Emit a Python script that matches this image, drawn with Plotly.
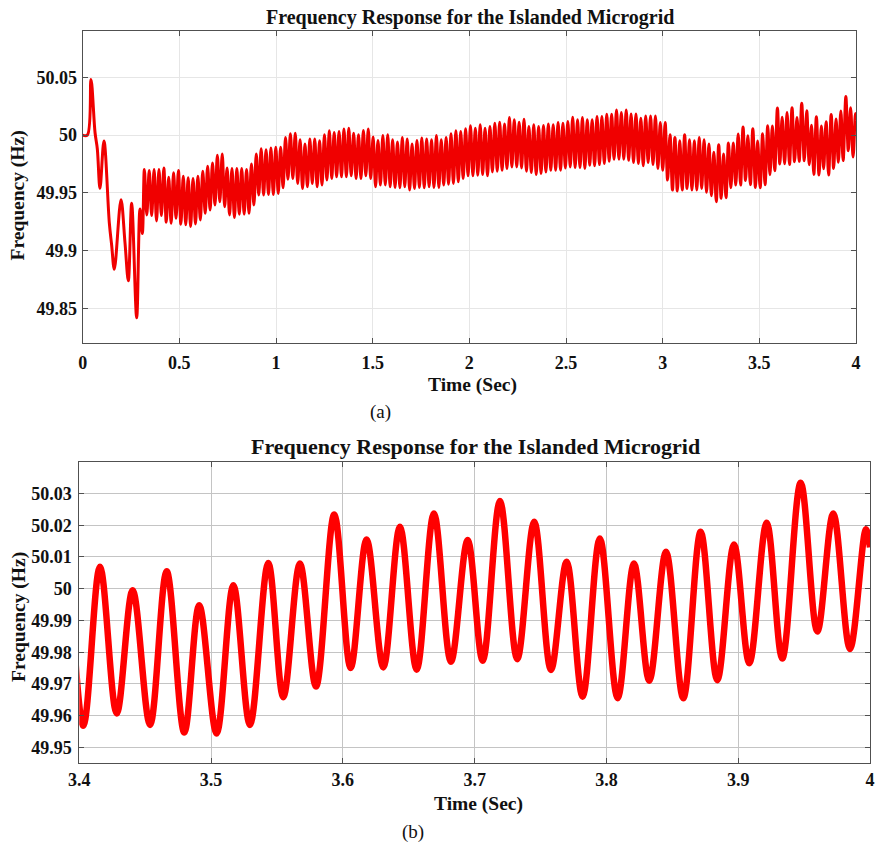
import plotly.graph_objects as go

# ---- start-up transient (s, Hz) ----
trans_t = [0.000, 0.024, 0.043, 0.064, 0.0757, 0.0895, 0.110, 0.1378, 0.1498,
           0.1636, 0.1981, 0.2188, 0.236, 0.2533, 0.2792, 0.2964, 0.3085]
trans_hz = [50.000, 50.000, 50.048, 50.002, 49.988, 49.954, 49.995, 49.924, 49.905,
            49.884, 49.944, 49.907, 49.874, 49.941, 49.842, 49.936, 49.915]

# ---- oscillation crests, 0.32 s .. 3.39 s ----
band_peak_t = [
    0.3190, 0.3442, 0.3694, 0.3945, 0.4197, 0.4449, 0.4701, 0.4952, 0.5204, 0.5456,
    0.5708, 0.5959, 0.6211, 0.6463, 0.6715, 0.6966, 0.7218, 0.7470, 0.7722, 0.7973,
    0.8225, 0.8477, 0.8729, 0.8980, 0.9232, 0.9484, 0.9736, 0.9988, 1.0239, 1.0491,
    1.0743, 1.0995, 1.1246, 1.1498, 1.1750, 1.2002, 1.2253, 1.2505, 1.2757, 1.3009,
    1.3260, 1.3512, 1.3764, 1.4016, 1.4267, 1.4519, 1.4771, 1.5023, 1.5274, 1.5526,
    1.5778, 1.6030, 1.6282, 1.6533, 1.6785, 1.7037, 1.7289, 1.7540, 1.7792, 1.8044,
    1.8296, 1.8547, 1.8799, 1.9051, 1.9303, 1.9554, 1.9806, 2.0058, 2.0310, 2.0561,
    2.0813, 2.1065, 2.1317, 2.1568, 2.1820, 2.2072, 2.2324, 2.2576, 2.2827, 2.3079,
    2.3331, 2.3583, 2.3834, 2.4086, 2.4338, 2.4590, 2.4841, 2.5093, 2.5345, 2.5597,
    2.5848, 2.6100, 2.6352, 2.6604, 2.6855, 2.7107, 2.7359, 2.7611, 2.7862, 2.8114,
    2.8366, 2.8618, 2.8870, 2.9121, 2.9373, 2.9625, 2.9877, 3.0128, 3.0380, 3.0632,
    3.0884, 3.1135, 3.1387, 3.1639, 3.1891, 3.2142, 3.2394, 3.2646, 3.2898, 3.3149,
    3.3401, 3.3653, 3.3905]
band_peak_hz = [
    49.9702, 49.9694, 49.9702, 49.9702, 49.9716, 49.9636, 49.9674, 49.9694, 49.9645, 49.9631,
    49.9625, 49.9645, 49.9688, 49.9731, 49.9759, 49.9825, 49.9837, 49.9716, 49.9711, 49.9711,
    49.9711, 49.9702, 49.9751, 49.9837, 49.9883, 49.9874, 49.9888, 49.9894, 49.9894,
    49.9980, 50.0011, 50.0017, 49.9960, 49.9923, 49.9966, 49.9966, 49.9951, 50.0003, 50.0037,
    50.0023, 50.0032, 50.0052, 50.0060, 50.0017, 50.0003, 50.0040, 50.0052, 49.9983, 49.9954,
    49.9997, 50.0003, 49.9960, 49.9940, 49.9980, 49.9966, 49.9923, 49.9954, 49.9974, 49.9966,
    49.9960, 49.9997, 49.9960, 49.9980, 50.0011, 50.0037, 50.0032, 50.0054, 50.0080, 50.0060,
    50.0089, 50.0060, 50.0074, 50.0103, 50.0112, 50.0097, 50.0152, 50.0132, 50.0112, 50.0137,
    50.0074, 50.0089, 50.0074, 50.0083, 50.0097, 50.0089, 50.0109, 50.0103, 50.0117, 50.0155,
    50.0132, 50.0152, 50.0132, 50.0132, 50.0160, 50.0160, 50.0180, 50.0180, 50.0218, 50.0195,
    50.0218, 50.0183, 50.0183, 50.0146, 50.0166, 50.0166, 50.0166, 50.0109, 50.0109, 50.0003,
    49.9980, 49.9951, 50.0003, 49.9960, 49.9951, 49.9980, 49.9960, 49.9923, 49.9851, 49.9917,
    49.9837, 49.9931, 49.9931, 50.0009]

# ---- oscillation troughs, 0.33 s .. 3.38 s ----
band_trough_t = [
    0.3316, 0.3568, 0.3820, 0.4071, 0.4323, 0.4575, 0.4827, 0.5078, 0.5330, 0.5582,
    0.5834, 0.6085, 0.6337, 0.6589, 0.6841, 0.7092, 0.7344, 0.7596, 0.7848, 0.8099,
    0.8351, 0.8603, 0.8855, 0.9106, 0.9358, 0.9610, 0.9862, 1.0114, 1.0365, 1.0617,
    1.0869, 1.1121, 1.1372, 1.1624, 1.1876, 1.2128, 1.2379, 1.2631, 1.2883, 1.3135,
    1.3386, 1.3638, 1.3890, 1.4142, 1.4393, 1.4645, 1.4897, 1.5149, 1.5400, 1.5652,
    1.5904, 1.6156, 1.6408, 1.6659, 1.6911, 1.7163, 1.7415, 1.7666, 1.7918, 1.8170,
    1.8422, 1.8673, 1.8925, 1.9177, 1.9429, 1.9680, 1.9932, 2.0184, 2.0436, 2.0687,
    2.0939, 2.1191, 2.1443, 2.1694, 2.1946, 2.2198, 2.2450, 2.2702, 2.2953, 2.3205,
    2.3457, 2.3709, 2.3960, 2.4212, 2.4464, 2.4716, 2.4967, 2.5219, 2.5471, 2.5723,
    2.5974, 2.6226, 2.6478, 2.6730, 2.6981, 2.7233, 2.7485, 2.7737, 2.7988, 2.8240,
    2.8492, 2.8744, 2.8996, 2.9247, 2.9499, 2.9751, 3.0003, 3.0254, 3.0506, 3.0758,
    3.1010, 3.1261, 3.1513, 3.1765, 3.2017, 3.2268, 3.2520, 3.2772, 3.3024, 3.3275,
    3.3527, 3.3779]
band_trough_hz = [
    49.9310, 49.9304, 49.9258, 49.9304, 49.9247, 49.9238, 49.9281, 49.9230, 49.9224, 49.9210,
    49.9232, 49.9267, 49.9324, 49.9353, 49.9396, 49.9424, 49.9381, 49.9310, 49.9287, 49.9316,
    49.9316, 49.9324, 49.9396, 49.9482, 49.9482, 49.9487, 49.9487, 49.9496,
    49.9545, 49.9619, 49.9625, 49.9582, 49.9539, 49.9553, 49.9582, 49.9553, 49.9568, 49.9611,
    49.9625, 49.9639, 49.9639, 49.9639, 49.9648, 49.9625, 49.9625, 49.9648, 49.9625, 49.9553,
    49.9568, 49.9568, 49.9553, 49.9547, 49.9545, 49.9553, 49.9525, 49.9539, 49.9547, 49.9545,
    49.9553, 49.9547, 49.9547, 49.9568, 49.9576, 49.9582, 49.9596, 49.9625, 49.9648, 49.9648,
    49.9653, 49.9659, 49.9648, 49.9682, 49.9688, 49.9696, 49.9711, 49.9725, 49.9725, 49.9716,
    49.9688, 49.9676, 49.9659, 49.9668, 49.9682, 49.9696, 49.9696, 49.9696, 49.9716, 49.9725,
    49.9719, 49.9719, 49.9711, 49.9739, 49.9734, 49.9745, 49.9754, 49.9774, 49.9791, 49.9791,
    49.9791, 49.9782, 49.9762, 49.9754, 49.9734, 49.9762, 49.9745, 49.9711, 49.9696,
    49.9611, 49.9525, 49.9516, 49.9525, 49.9539, 49.9525, 49.9525, 49.9539, 49.9505, 49.9476,
    49.9424, 49.9453, 49.9459, 49.9545, 49.9568]

# ---- detailed window 3.4 s .. 4 s: alternating troughs / crests ----
detail_t = [3.403, 3.4157, 3.4284, 3.4405, 3.4537, 3.4663, 3.4797, 3.491, 3.5042, 3.5169,
            3.5295, 3.5434, 3.5548, 3.5674, 3.5796, 3.5935, 3.6059, 3.618, 3.6307, 3.6433,
            3.656, 3.6691, 3.682, 3.6947, 3.7061, 3.7192, 3.7323, 3.7452, 3.7579, 3.7698,
            3.7819, 3.795, 3.8085, 3.8209, 3.8325, 3.8452, 3.8583, 3.8715, 3.8841, 3.8968,
            3.9084, 3.9216, 3.9334, 3.9474, 3.96, 3.9721, 3.9848, 3.9969, 4.0]
detail_hz = [49.9568, 50.0069, 49.9607, 49.9995, 49.9571, 50.0055, 49.9547, 49.9948, 49.9544, 50.0011,
             49.9571, 50.0081, 49.9658, 50.0079, 49.9692, 50.0234, 49.9750, 50.0155, 49.9752, 50.0195,
             49.9745, 50.0237, 49.9770, 50.0153, 49.9773, 50.0276, 49.9778, 50.0211, 49.9744, 50.0085,
             49.9660, 50.0158, 49.9655, 50.0079, 49.9710, 50.0116, 49.9655, 50.0179, 49.9712, 50.0139,
             49.9765, 50.0208, 49.9780, 50.0334, 49.9865, 50.0237, 49.9810, 50.0187, 50.0130]

# ---- tick labels ----
top_xticks = [0, 0.5, 1, 1.5, 2, 2.5, 3, 3.5, 4]
top_xtext = ["0", "0.5", "1", "1.5", "2", "2.5", "3", "3.5", "4"]
top_yticks = [49.85, 49.9, 49.95, 50.0, 50.05]
top_ytext = ["49.85", "49.9", "49.95", "50", "50.05"]
bot_xticks = [3.4, 3.5, 3.6, 3.7, 3.8, 3.9, 4.0]
bot_xtext = ["3.4", "3.5", "3.6", "3.7", "3.8", "3.9", "4"]
bot_yticks = [49.95, 49.96, 49.97, 49.98, 49.99, 50.0, 50.01, 50.02, 50.03]
bot_ytext = ["49.95", "49.96", "49.97", "49.98", "49.99", "50", "50.01", "50.02", "50.03"]

# assemble the full time series
t_all = list(trans_t)
f_all = list(trans_hz)
for i in range(len(band_trough_t)):
    t_all += [band_peak_t[i], band_trough_t[i]]
    f_all += [band_peak_hz[i], band_trough_hz[i]]
t_all.append(band_peak_t[-1])
f_all.append(band_peak_hz[-1])
t_all += detail_t
f_all += detail_hz

SERIF = "Liberation Serif"
FRAME = "#505050"

fig = go.Figure()
fig.add_trace(go.Scatter(x=t_all, y=f_all, mode="lines", xaxis="x", yaxis="y",
                         line=dict(color="#f00000", width=3, shape="spline", smoothing=1),
                         showlegend=False, hoverinfo="skip"))
fig.add_trace(go.Scatter(x=t_all, y=f_all, mode="lines", xaxis="x2", yaxis="y2",
                         line=dict(color="#ff0000", width=6.5, shape="spline", smoothing=1),
                         showlegend=False, hoverinfo="skip"))


def axis_style(grid, standoff):
    return dict(showline=True, linecolor=FRAME, linewidth=1, mirror="ticks",
                ticks="inside", ticklen=5, tickcolor=FRAME, tickwidth=1,
                showgrid=True, gridcolor=grid, gridwidth=1, zeroline=False,
                automargin=False, ticklabelstandoff=standoff,
                tickfont=dict(family=SERIF, size=18, color="#111", weight="bold"))


fig.update_layout(
    width=875, height=847,
    margin=dict(l=0, r=0, t=0, b=0, autoexpand=False),
    paper_bgcolor="white", plot_bgcolor="white",
    xaxis=dict(domain=[0.0945, 0.9783], range=[0, 4], anchor="y",
               tickvals=top_xticks, ticktext=top_xtext, **axis_style("#e6e6e6", 3)),
    yaxis=dict(domain=[0.5947, 0.9634], range=[49.82, 50.09], anchor="x",
               tickvals=top_yticks, ticktext=top_ytext, **axis_style("#e6e6e6", 1)),
    xaxis2=dict(domain=[0.0906, 0.9943], range=[3.4, 4.0], anchor="y2",
                tickvals=bot_xticks, ticktext=bot_xtext, **axis_style("#c4c4c4", 0)),
    yaxis2=dict(domain=[0.0988, 0.4549], range=[49.945, 50.04], anchor="x2",
                tickvals=bot_yticks, ticktext=bot_ytext, **axis_style("#c4c4c4", 3)),
)

TITLE = "<b>Frequency Response for the Islanded Microgrid</b>"


def label(text, x, y, size, angle=0, bold=True):
    fig.add_annotation(text=text, x=x, y=y, xref="paper", yref="paper",
                       xanchor="center", yanchor="middle", showarrow=False,
                       textangle=angle,
                       font=dict(family=SERIF, size=size, color="#111",
                                 weight="bold" if bold else "normal"))


label(TITLE, 0.5371, 0.9793, 20)
label("<b>Time (Sec)</b>", 0.5399, 0.5449, 19.5)
label("<b>Frequency (Hz)</b>", 0.0217, 0.7692, 19.5, angle=-90)
label("(a)", 0.4354, 0.5136, 19, bold=False)

label(TITLE, 0.5434, 0.4723, 22)
label("<b>Time (Sec)</b>", 0.5463, 0.0508, 19.5)
label("<b>Frequency (Hz)</b>", 0.0211, 0.2721, 19.5, angle=-90)
label("(b)", 0.4720, 0.0177, 19, bold=False)

fig.write_html("out.html")
